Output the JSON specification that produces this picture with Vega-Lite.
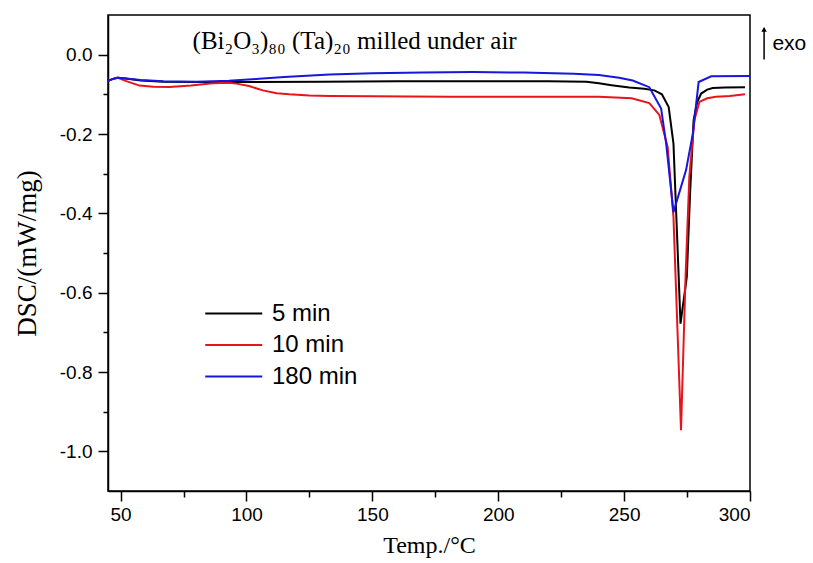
{
  "$schema": "https://vega.github.io/schema/vega-lite/v6.json",
  "width": 642,
  "height": 476,
  "autosize": {"type": "none"},
  "padding": {"left": 108, "top": 15, "right": 63, "bottom": 72},
  "background": "white",
  "config": {
    "view": {"stroke": "black", "strokeWidth": 1.5},
    "axis": {"grid": false, "domainColor": "black", "domainWidth": 1.5, "tickColor": "black", "tickWidth": 1.5,
             "labelFont": "Liberation Sans", "labelColor": "black", "titleFont": "Liberation Serif", "titleColor": "black", "titleFontWeight": "normal"}
  },
  "datasets": {
    "dsc": [
      {"series": "5 min", "T": 45, "DSC": -0.066}, {"series": "5 min", "T": 47, "DSC": -0.061}, {"series": "5 min", "T": 49, "DSC": -0.058},
      {"series": "5 min", "T": 52, "DSC": -0.060}, {"series": "5 min", "T": 58, "DSC": -0.065}, {"series": "5 min", "T": 67, "DSC": -0.068},
      {"series": "5 min", "T": 80, "DSC": -0.069}, {"series": "5 min", "T": 100, "DSC": -0.069}, {"series": "5 min", "T": 130, "DSC": -0.068},
      {"series": "5 min", "T": 160, "DSC": -0.067}, {"series": "5 min", "T": 190, "DSC": -0.067}, {"series": "5 min", "T": 220, "DSC": -0.067},
      {"series": "5 min", "T": 235, "DSC": -0.068}, {"series": "5 min", "T": 240, "DSC": -0.072}, {"series": "5 min", "T": 245, "DSC": -0.077},
      {"series": "5 min", "T": 252, "DSC": -0.083}, {"series": "5 min", "T": 258, "DSC": -0.086}, {"series": "5 min", "T": 262, "DSC": -0.090},
      {"series": "5 min", "T": 265, "DSC": -0.100}, {"series": "5 min", "T": 267.7, "DSC": -0.132}, {"series": "5 min", "T": 269.6, "DSC": -0.224},
      {"series": "5 min", "T": 271, "DSC": -0.45}, {"series": "5 min", "T": 272.4, "DSC": -0.678}, {"series": "5 min", "T": 274.9, "DSC": -0.560},
      {"series": "5 min", "T": 276.2, "DSC": -0.350}, {"series": "5 min", "T": 277.6, "DSC": -0.165}, {"series": "5 min", "T": 279, "DSC": -0.120},
      {"series": "5 min", "T": 280.6, "DSC": -0.098}, {"series": "5 min", "T": 283, "DSC": -0.088}, {"series": "5 min", "T": 285.2, "DSC": -0.084},
      {"series": "5 min", "T": 290, "DSC": -0.083}, {"series": "5 min", "T": 298, "DSC": -0.082},

      {"series": "10 min", "T": 45, "DSC": -0.066}, {"series": "10 min", "T": 47, "DSC": -0.061}, {"series": "10 min", "T": 48.7, "DSC": -0.058},
      {"series": "10 min", "T": 52, "DSC": -0.066}, {"series": "10 min", "T": 57.5, "DSC": -0.078}, {"series": "10 min", "T": 63, "DSC": -0.081},
      {"series": "10 min", "T": 69.4, "DSC": -0.0815}, {"series": "10 min", "T": 78, "DSC": -0.078}, {"series": "10 min", "T": 86.6, "DSC": -0.072},
      {"series": "10 min", "T": 93, "DSC": -0.071}, {"series": "10 min", "T": 96, "DSC": -0.073}, {"series": "10 min", "T": 101, "DSC": -0.079},
      {"series": "10 min", "T": 106.5, "DSC": -0.090}, {"series": "10 min", "T": 112, "DSC": -0.097}, {"series": "10 min", "T": 117, "DSC": -0.100},
      {"series": "10 min", "T": 125, "DSC": -0.103}, {"series": "10 min", "T": 133, "DSC": -0.104}, {"series": "10 min", "T": 150, "DSC": -0.105},
      {"series": "10 min", "T": 180, "DSC": -0.106}, {"series": "10 min", "T": 210, "DSC": -0.106}, {"series": "10 min", "T": 240, "DSC": -0.106},
      {"series": "10 min", "T": 253, "DSC": -0.110}, {"series": "10 min", "T": 260, "DSC": -0.122}, {"series": "10 min", "T": 264, "DSC": -0.152},
      {"series": "10 min", "T": 267.3, "DSC": -0.233}, {"series": "10 min", "T": 269.6, "DSC": -0.409}, {"series": "10 min", "T": 272.6, "DSC": -0.947},
      {"series": "10 min", "T": 274.4, "DSC": -0.560}, {"series": "10 min", "T": 275.9, "DSC": -0.308}, {"series": "10 min", "T": 277.9, "DSC": -0.165},
      {"series": "10 min", "T": 279.9, "DSC": -0.119}, {"series": "10 min", "T": 283, "DSC": -0.110}, {"series": "10 min", "T": 286.5, "DSC": -0.106},
      {"series": "10 min", "T": 292, "DSC": -0.104}, {"series": "10 min", "T": 298, "DSC": -0.100},

      {"series": "180 min", "T": 45, "DSC": -0.066}, {"series": "180 min", "T": 47, "DSC": -0.061}, {"series": "180 min", "T": 49, "DSC": -0.058},
      {"series": "180 min", "T": 52, "DSC": -0.060}, {"series": "180 min", "T": 58, "DSC": -0.064}, {"series": "180 min", "T": 67, "DSC": -0.067},
      {"series": "180 min", "T": 80, "DSC": -0.068}, {"series": "180 min", "T": 93, "DSC": -0.066}, {"series": "180 min", "T": 105, "DSC": -0.061},
      {"series": "180 min", "T": 115, "DSC": -0.056}, {"series": "180 min", "T": 133, "DSC": -0.050}, {"series": "180 min", "T": 150, "DSC": -0.047},
      {"series": "180 min", "T": 170, "DSC": -0.045}, {"series": "180 min", "T": 190, "DSC": -0.044}, {"series": "180 min", "T": 210, "DSC": -0.045},
      {"series": "180 min", "T": 230, "DSC": -0.048}, {"series": "180 min", "T": 240, "DSC": -0.051}, {"series": "180 min", "T": 248, "DSC": -0.058},
      {"series": "180 min", "T": 253.4, "DSC": -0.065}, {"series": "180 min", "T": 260, "DSC": -0.082}, {"series": "180 min", "T": 264.7, "DSC": -0.136},
      {"series": "180 min", "T": 266.7, "DSC": -0.224}, {"series": "180 min", "T": 269.6, "DSC": -0.397}, {"series": "180 min", "T": 274.6, "DSC": -0.291},
      {"series": "180 min", "T": 277.3, "DSC": -0.199}, {"series": "180 min", "T": 279.6, "DSC": -0.069}, {"series": "180 min", "T": 284.6, "DSC": -0.0545},
      {"series": "180 min", "T": 300, "DSC": -0.054}
    ]
  },
  "layer": [
    {
      "data": {"name": "dsc"},
      "mark": {"type": "line", "strokeWidth": 2},
      "encoding": {
        "x": {"field": "T", "type": "quantitative", "scale": {"domain": [45, 300], "nice": false, "zero": false},
              "axis": {"values": [50, 75, 100, 125, 150, 175, 200, 225, 250, 275, 300],
                       "tickSize": {"condition": {"test": "datum.value % 50 != 0", "value": 6}, "value": 10},
                       "labelExpr": "datum.value % 50 == 0 ? datum.label : ''",
                       "labelFontSize": 19, "labelPadding": 4,
                       "title": "Temp./°C", "titleFontSize": 24, "titlePadding": 9}},
        "y": {"field": "DSC", "type": "quantitative", "scale": {"domain": [-1.1, 0.1], "nice": false, "zero": false},
              "axis": {"values": [0, -0.1, -0.2, -0.3, -0.4, -0.5, -0.6, -0.7, -0.8, -0.9, -1.0],
                       "tickSize": {"condition": {"test": "round(abs(datum.value) * 10) % 2 == 1", "value": 5}, "value": 10},
                       "labelFontSize": 19, "labelPadding": 6,
                       "labelExpr": "round(abs(datum.value) * 10) % 2 == 1 ? '' : (datum.value == 0 ? '0.0' : '-' + format(abs(datum.value), '.1f'))",
                       "title": "DSC/(mW/mg)", "titleFontSize": 27, "titlePadding": 18}},
        "color": {"field": "series", "type": "nominal",
                  "scale": {"domain": ["5 min", "10 min", "180 min"], "range": ["#000000", "#e8141c", "#1616dc"]},
                  "legend": {"orient": "none", "legendX": 96, "legendY": 283, "title": null, "symbolType": "M-1,0H3",
                             "symbolSize": 812, "symbolStrokeWidth": 2, "labelFontSize": 24, "labelFont": "Liberation Sans",
                             "labelColor": "black", "labelOffset": 37, "rowPadding": 3.5}},
        "order": {"field": "T", "type": "quantitative"}
      }
    },
    {
      "data": {"values": [{"note": "(Bi₂O₃)₈₀ (Ta)₂₀ milled under air"}]},
      "mark": {"type": "text", "font": "Liberation Serif", "fontSize": 25, "align": "left", "baseline": "alphabetic", "color": "black"},
      "encoding": {"x": {"datum": 78.6, "scale": {"domain": [45, 300], "nice": false, "zero": false}},
                   "y": {"datum": 0.015, "scale": {"domain": [-1.1, 0.1], "nice": false, "zero": false}},
                   "text": {"field": "note"}}
    },
    {
      "data": {"values": [{"note": "exo"}]},
      "layer": [
        {"mark": {"type": "rule", "color": "black", "strokeWidth": 1.5},
         "encoding": {"x": {"datum": 305.6, "scale": {"domain": [45, 300], "nice": false, "zero": false}},
                      "y": {"datum": -0.012, "scale": {"domain": [-1.1, 0.1], "nice": false, "zero": false}},
                      "y2": {"datum": 0.066}}},
        {"mark": {"type": "point", "shape": "triangle-up", "filled": true, "color": "black", "size": 30, "opacity": 1},
         "encoding": {"x": {"datum": 305.6, "scale": {"domain": [45, 300], "nice": false, "zero": false}},
                      "y": {"datum": 0.064, "scale": {"domain": [-1.1, 0.1], "nice": false, "zero": false}}}},
        {"mark": {"type": "text", "font": "Liberation Sans", "fontSize": 21, "align": "left", "baseline": "alphabetic", "color": "black"},
         "encoding": {"x": {"datum": 308.9, "scale": {"domain": [45, 300], "nice": false, "zero": false}},
                      "y": {"datum": 0.011, "scale": {"domain": [-1.1, 0.1], "nice": false, "zero": false}},
                      "text": {"field": "note"}}}
      ]
    }
  ]
}
